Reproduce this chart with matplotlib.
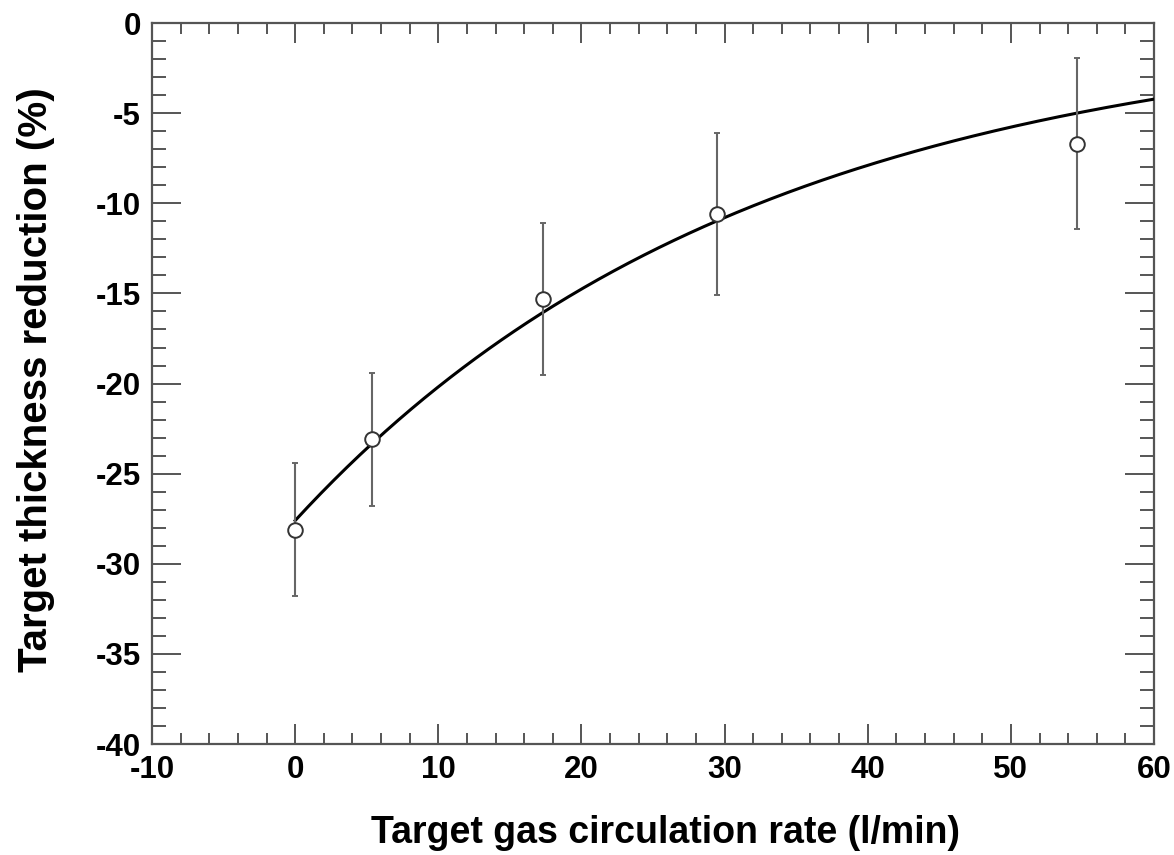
import numpy as np
import matplotlib
matplotlib.use("Agg")
import matplotlib.pyplot as plt
from matplotlib.ticker import MultipleLocator, FuncFormatter

# Data
rate = [0.0, 5.4, 17.3, 29.5, 54.6]
reduction = [-28.1, -23.1, -15.3, -10.6, -6.7]
reduction_err = [3.7, 3.7, 4.2, 4.5, 4.75]

# Fit curve parameters: y = fit_amp * exp(-fit_rate * x), drawn over fit_range
fit_amp = -27.6
fit_rate = 0.0313
fit_range = [0.0, 60.0]

xlim = (-10, 60)
ylim = (-40, 0)
xticks = [-10, 0, 10, 20, 30, 40, 50, 60]
yticks = [0, -5, -10, -15, -20, -25, -30, -35, -40]

plt.rcParams['font.family'] = ['Liberation Sans', 'DejaVu Sans']
plt.rcParams['axes.unicode_minus'] = False

fig = plt.figure(figsize=(11.74, 8.55), dpi=100)
ax = fig.add_axes([0.1295, 0.1298, 0.983 - 0.1295, 0.973 - 0.1298])

axis_col = '#555555'
xf = np.linspace(fit_range[0], fit_range[1], 400)
ax.plot(xf, fit_amp * np.exp(-fit_rate * xf), color='black', lw=2.2, zorder=3)

ax.errorbar(rate, reduction, yerr=reduction_err, fmt='o', ms=10.5,
            mfc='white', mec='#333333', mew=1.4, ecolor='#666666',
            elinewidth=1.5, capsize=2.5, capthick=1.5, zorder=4)

ax.set_xlim(*xlim)
ax.set_ylim(*ylim)
ax.set_xticks(xticks)
ax.set_yticks(yticks)
fmt = FuncFormatter(lambda v, p: '%d' % round(v))
ax.xaxis.set_major_formatter(fmt)
ax.yaxis.set_major_formatter(fmt)
ax.xaxis.set_minor_locator(MultipleLocator(2))
ax.yaxis.set_minor_locator(MultipleLocator(1))

ax.tick_params(axis='x', which='major', direction='in', length=14.5, width=1.4,
               color=axis_col, top=True, bottom=True, labelsize=22.5, pad=8)
ax.tick_params(axis='x', which='minor', direction='in', length=8, width=1.4,
               color=axis_col, top=True, bottom=True)
ax.tick_params(axis='y', which='major', direction='in', length=21, width=1.4,
               color=axis_col, left=True, right=True, labelsize=22.5, pad=8)
ax.tick_params(axis='y', which='minor', direction='in', length=10, width=1.4,
               color=axis_col, left=True, right=True)
for lab in ax.get_xticklabels() + ax.get_yticklabels():
    lab.set_fontweight('bold')

for s in ax.spines.values():
    s.set_color(axis_col)
    s.set_linewidth(1.6)

ax.set_xlabel('Target gas circulation rate (l/min)', fontsize=27,
              fontweight='bold')
ax.set_ylabel('Target thickness reduction (%)', fontsize=29,
              fontweight='bold')
ax.xaxis.set_label_coords(0.512, -0.099)
ax.yaxis.set_label_coords(-0.097, 0.505)

fig.savefig('out.png', dpi=100)
